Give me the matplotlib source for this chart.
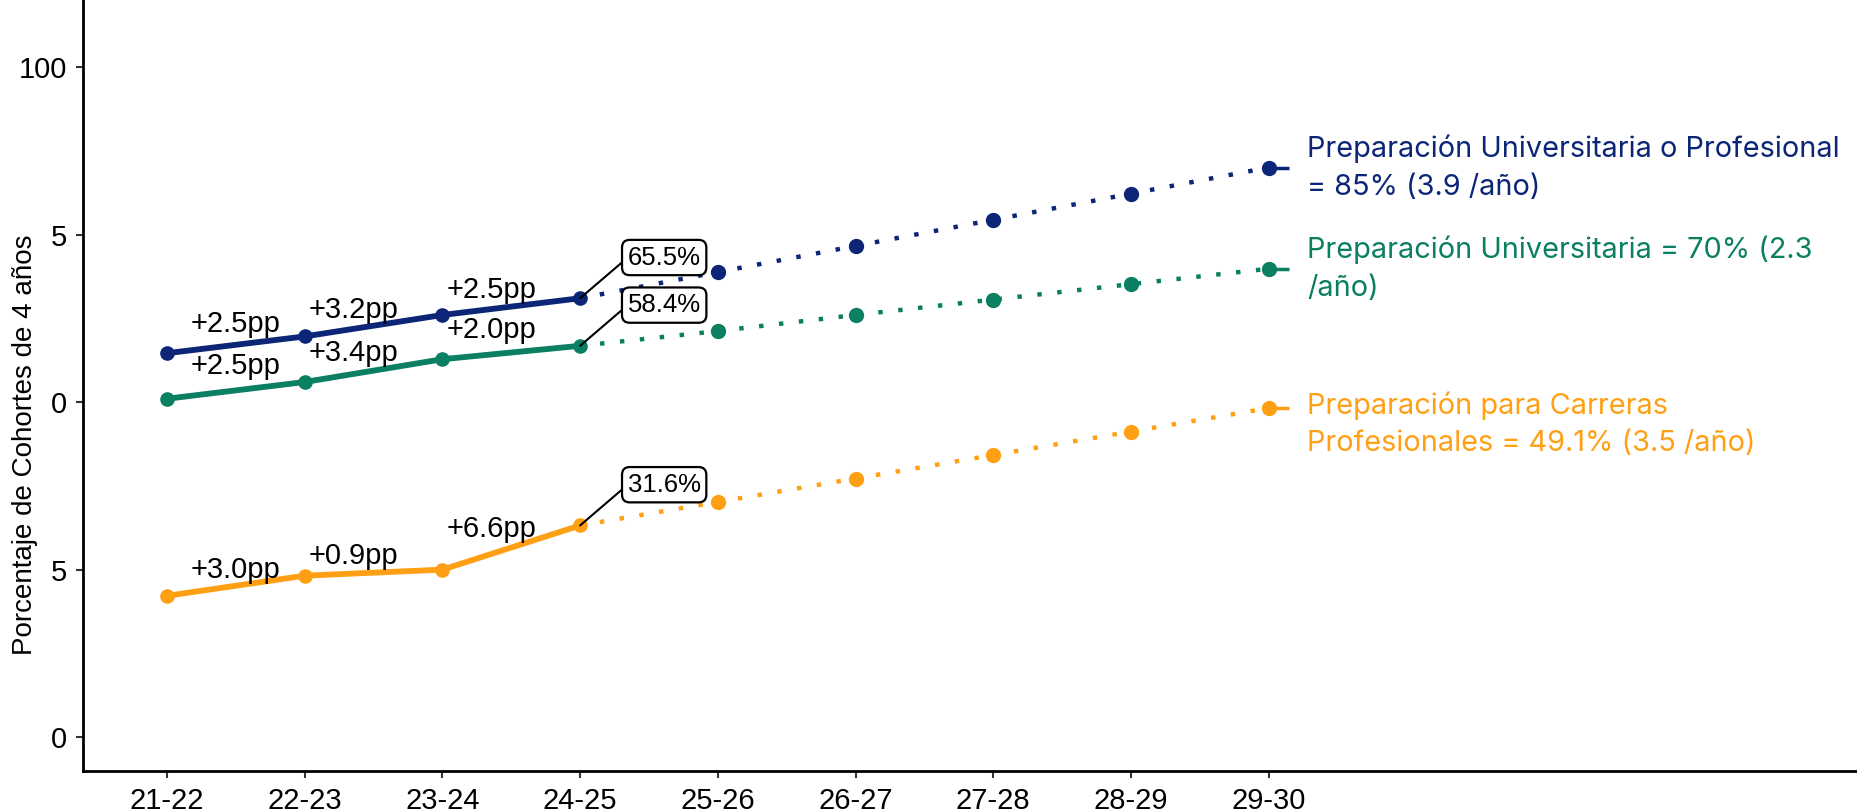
import matplotlib
matplotlib.use('Agg')
import matplotlib.pyplot as plt

# school years on the x axis
years = ['21-22', '22-23', '23-24', '24-25', '25-26', '26-27', '27-28', '28-29', '29-30']

# observed values (21-22 .. 24-25)
univ_prof = [57.3, 59.8, 63.0, 65.5]
univ = [50.5, 53.0, 56.4, 58.4]
career = [21.1, 24.1, 25.0, 31.6]

# projected values (25-26 .. 29-30)
univ_prof_proj = [69.4, 73.3, 77.2, 81.1, 85.0]
univ_proj = [60.6, 63.0, 65.3, 67.6, 69.9]
career_proj = [35.1, 38.6, 42.1, 45.6, 49.1]

# year to year changes
univ_prof_chg = ['+2.5pp', '+3.2pp', '+2.5pp']
univ_chg = ['+2.5pp', '+3.4pp', '+2.0pp']
career_chg = ['+3.0pp', '+0.9pp', '+6.6pp']

# end labels
univ_prof_lbl = 'Preparación Universitaria o Profesional\n= 85% (3.9 /año)'
univ_lbl = 'Preparación Universitaria = 70% (2.3\n/año)'
career_lbl = 'Preparación para Carreras\nProfesionales = 49.1% (3.5 /año)'

ytick_vals = [0, 25, 50, 75, 100]
ytick_lbls = ['0', '5', '0', '5', '100']

navy = '#0C2577'
green = '#0A7F62'
orange = '#FFA014'

plt.rcParams['font.family'] = ['Liberation Sans', 'DejaVu Sans']

fig = plt.figure(figsize=(18.58, 8.11), dpi=100)
ax = fig.add_axes([0.0447, 0.0497, 0.9553, 0.9503])

# where the change labels sit (layout only)
chg_x = [0.17, 1.03, 2.03]
series = [
    (univ_prof, univ_prof_proj, navy, univ_prof_chg, [60.4, 62.6, 65.6], univ_prof_lbl, 0),
    (univ, univ_proj, green, univ_chg, [54.2, 56.1, 59.6], univ_lbl, 0),
    (career, career_proj, orange, career_chg, [23.7, 25.9, 29.9], career_lbl, -11.5),
]

n_obs = len(univ_prof)
x_obs = list(range(n_obs))
x_proj = list(range(n_obs - 1, len(years)))

for obs, proj, col, chg, chg_y, lbl, dy in series:
    ax.plot(x_proj, [obs[-1]] + proj, color=col, lw=3.2, dashes=(1, 3.5),
            dash_capstyle='butt', zorder=2)
    ax.plot(x_proj[1:], proj, 'o', color=col, ms=10, zorder=3)
    ax.plot(x_obs, obs, '-o', color=col, lw=4.2, ms=9.5, zorder=3)
    for t, xx, yy in zip(chg, chg_x, chg_y):
        ax.text(xx, yy, t, fontsize=21, ha='left', va='baseline', color='black', zorder=4)
    ax.annotate(f'{obs[-1]:.1f}%', xy=(x_obs[-1], obs[-1]), xytext=(60.5, 29.3),
                textcoords='offset points', ha='center', va='center', fontsize=18.5,
                bbox=dict(boxstyle='round,pad=0.22,rounding_size=0.3', fc='white',
                          ec='black', lw=1.6),
                arrowprops=dict(arrowstyle='-', color='black', lw=1.5,
                                relpos=(0, 0.5), shrinkA=0, shrinkB=0),
                zorder=5)
    # short stub and end label
    ax.plot([x_proj[-1], x_proj[-1] + 0.145], [proj[-1], proj[-1]], color=col,
            lw=2.5, solid_capstyle='butt', zorder=2)
    ax.annotate(lbl, xy=(x_proj[-1] + 0.28, proj[-1]), xytext=(0, dy),
                textcoords='offset points', ha='left', va='center', color=col,
                fontsize=20.8, family=['Inter', 'DejaVu Sans'], linespacing=1.5,
                annotation_clip=False)

ax.set_xlim(-0.61, 12.28)
ax.set_ylim(-5, 110)
ax.set_xticks(range(len(years)))
ax.set_xticklabels(years)
ax.set_yticks(ytick_vals)
ax.set_yticklabels(ytick_lbls)
ax.tick_params(axis='both', length=5, width=1.5, color='#333333', labelsize=21,
               pad=6.5, labelcolor='black')
for s in ['top', 'right']:
    ax.spines[s].set_visible(False)
for s in ['left', 'bottom']:
    ax.spines[s].set_linewidth(2)
    ax.spines[s].set_color('black')

fig.text(0.0135, 0.4513, 'Porcentaje de Cohortes de 4 años', rotation=90,
         ha='center', va='center', fontsize=20)

fig.savefig('out.png', dpi=100)
